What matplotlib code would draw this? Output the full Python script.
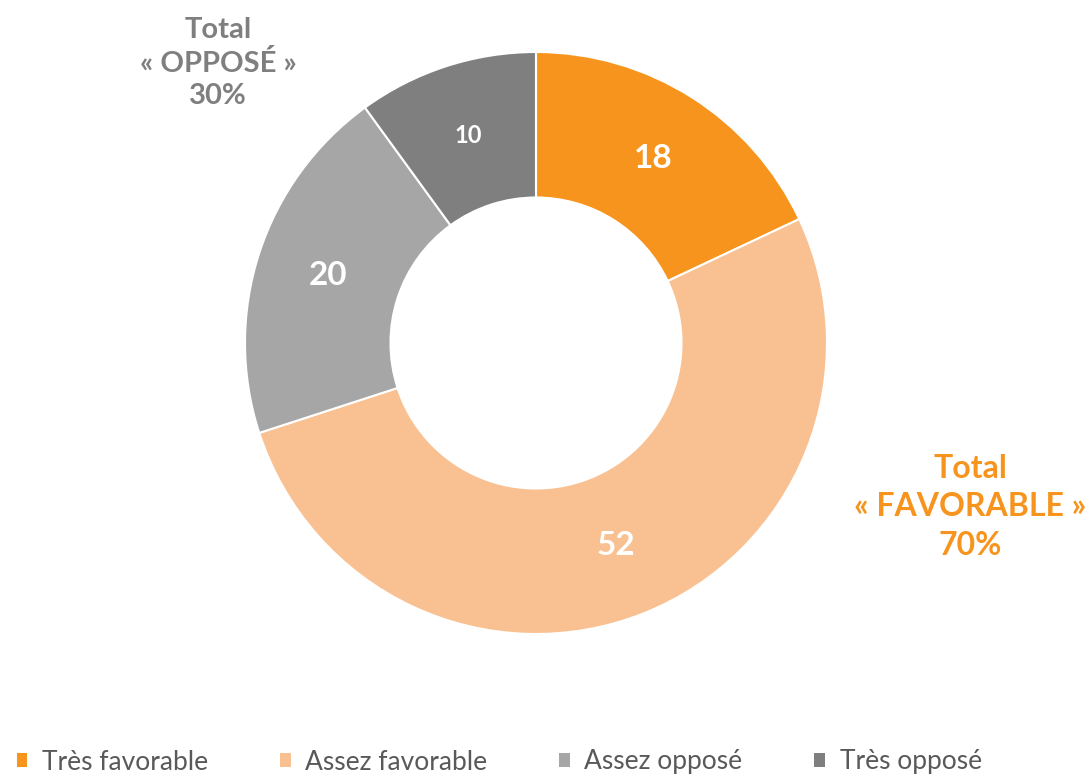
import matplotlib
matplotlib.use("Agg")
import matplotlib.pyplot as plt

# Data
categories = ["Très favorable", "Assez favorable", "Assez opposé", "Très opposé"]
values = [18, 52, 20, 10]
colors = ["#F7941D", "#F9C192", "#A6A6A6", "#7F7F7F"]
label_sizes = [24, 24, 24, 17]

total_favorable = values[0] + values[1]
total_oppose = values[2] + values[3]

plt.rcParams["font.family"] = ["Lato", "DejaVu Sans"]

W, H = 1091, 777
fig = plt.figure(figsize=(W / 100, H / 100), dpi=100)

# square axes centred on the donut (pixel coords)
cx, cy, half = 536, 343, 300
ax = fig.add_axes([(cx - half) / W, (H - cy - half) / H, 2 * half / W, 2 * half / H])

wedges, texts = ax.pie(
    values, colors=colors, startangle=90, counterclock=False, radius=1.0,
    labels=[str(v) for v in values], labeldistance=0.75,
    wedgeprops=dict(width=0.5, edgecolor="white", linewidth=1.5),
)
for t, s in zip(texts, label_sizes):
    t.set_color("white")
    t.set_fontweight("bold")
    t.set_fontsize(s)
    t.set_ha("center")
    t.set_va("center")

lim = half / 291
ax.set_xlim(-lim, lim)
ax.set_ylim(-lim, lim)
ax.set_aspect("equal")
ax.axis("off")

# Totals
fig.text(218 / W, 1 - 63 / H, f"Total\n« OPPOSÉ »\n{total_oppose}%",
         ha="center", va="center", fontsize=21, fontweight="bold",
         color="#7F7F7F", linespacing=1.3)
fig.text(970 / W, 1 - 507 / H, f"Total\n« FAVORABLE »\n{total_favorable}%",
         ha="center", va="center", fontsize=23, fontweight="bold",
         color="#F7941D", linespacing=1.4)

leg = fig.legend(wedges, categories, loc="center left",
                 bbox_to_anchor=(-7 / W, 1 - 762 / H), ncol=4, frameon=False,
                 fontsize=19, handlelength=0.4, handleheight=0.4,
                 handletextpad=0.55, columnspacing=2.73)
for t in leg.get_texts():
    t.set_color("#595959")
for h in leg.legend_handles:
    h.set_edgecolor("none")

fig.savefig("out.png", dpi=100)
